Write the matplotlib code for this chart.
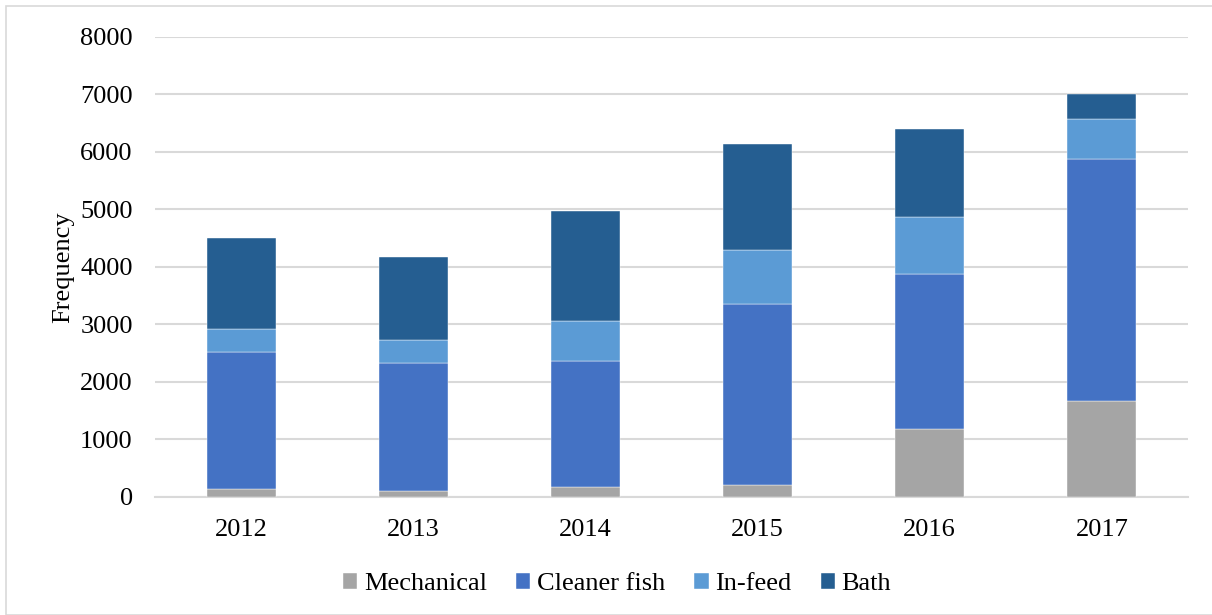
import matplotlib
matplotlib.use("Agg")
import matplotlib.pyplot as plt
from matplotlib.patches import Rectangle
import numpy as np

# data
years = ["2012", "2013", "2014", "2015", "2016", "2017"]
mechanical = [134, 104, 174, 198, 1177, 1670]
cleaner_fish = [2377, 2216, 2181, 3159, 2696, 4198]
in_feed = [400, 405, 701, 933, 997, 695]
bath = [1588, 1444, 1907, 1844, 1520, 440]

series_names = ["Mechanical", "Cleaner fish", "In-feed", "Bath"]
colors = ["#A5A5A5", "#4472C4", "#5B9BD5", "#255E91"]

plt.rcParams["font.family"] = ["Liberation Serif", "DejaVu Serif"]

fig = plt.figure(figsize=(12.12, 6.15), dpi=100)
ax = fig.add_axes([155 / 1212, 1 - 496.7 / 615, (1188 - 155) / 1212, (496.7 - 36.7) / 615])

# light frame around the whole chart
fig.patches.append(Rectangle((6 / 1212, 0), 1, 1 - 6 / 615, transform=fig.transFigure,
                             fill=False, edgecolor="#D9D9D9", linewidth=1.2))

x = np.arange(len(years))
bottom = np.zeros(len(years))
for name, vals, c in zip(series_names, [mechanical, cleaner_fish, in_feed, bath], colors):
    ax.bar(x, vals, width=0.4, bottom=bottom, color=c, label=name,
           edgecolor="white", linewidth=0.3, zorder=3)
    bottom += np.array(vals)

ax.set_xlim(-0.5, len(years) - 0.5)
ax.set_ylim(0, 8000)
ax.set_yticks(np.arange(0, 8001, 1000))
ax.set_xticks(x)
ax.set_xticklabels(years)
ax.yaxis.grid(True, color="#D9D9D9", linewidth=1.5, zorder=0)
ax.set_axisbelow(True)
for s in ["top", "right", "left"]:
    ax.spines[s].set_visible(False)
ax.spines["bottom"].set_color("#D9D9D9")
ax.spines["bottom"].set_linewidth(1.5)
ax.tick_params(axis="both", length=0, labelsize=19, colors="black")
ax.tick_params(axis="y", pad=16)
ax.tick_params(axis="x", pad=16)
ax.set_ylabel("Frequency", fontsize=19, labelpad=4)

fig.legend(loc="center", bbox_to_anchor=(617 / 1212, 1 - 584 / 615), ncol=4,
           frameon=False, fontsize=19, handlelength=0.55, handleheight=0.55,
           handletextpad=0.25, columnspacing=1.1)

fig.savefig("out.png", dpi=100)
